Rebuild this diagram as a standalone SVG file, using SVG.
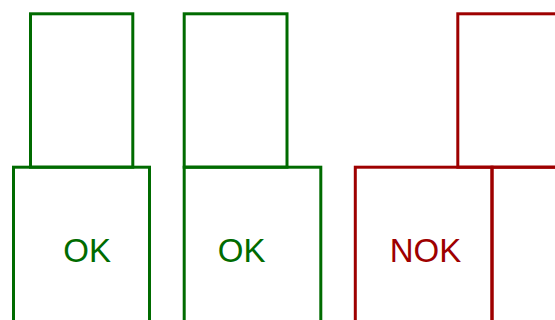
<svg xmlns="http://www.w3.org/2000/svg" width="555" height="320" viewBox="0 0 555 320">
<style>
.g{fill:none;stroke:#006b00;stroke-width:3}
.r{fill:none;stroke:#9e0000;stroke-width:3}
.t{font-family:"Liberation Sans",Arial,sans-serif;font-size:33px;text-anchor:middle}
</style>
<rect width="555" height="320" fill="#fff"/>
<g id="n1top"><rect class="g" x="30.5" y="13.8" width="102.3" height="153.4"/></g>
<g id="n2top"><rect class="g" x="184.2" y="13.8" width="102.8" height="153.4"/></g>
<g id="n3top"><rect class="r" x="457.8" y="13.8" width="120" height="153.4"/></g>
<g id="n1"><rect class="g" x="13.5" y="167.2" width="136" height="170"/><text class="t" x="87.2" y="261.5" fill="#006b00">OK</text></g>
<g id="n2"><rect class="g" x="184.2" y="167.2" width="136.6" height="170"/><text class="t" x="241.7" y="261.5" fill="#006b00">OK</text></g>
<g id="n3"><rect class="r" x="355.3" y="167.2" width="136.7" height="170"/><text class="t" x="425.5" y="261.5" fill="#9e0000">NOK</text></g>
<g id="n4"><rect class="r" x="492" y="167.2" width="120" height="170"/></g>
<g id="connectors"></g>
</svg>
